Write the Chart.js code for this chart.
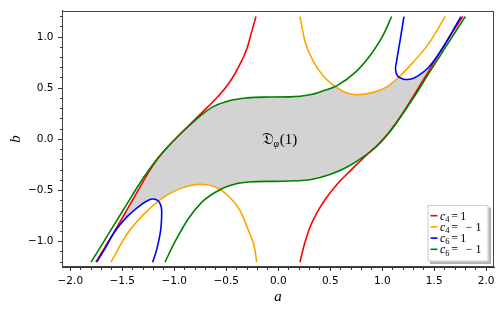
<!DOCTYPE html>
<html>
<head>
<meta charset="utf-8">
<script src="https://cdn.jsdelivr.net/npm/chart.js@4.4.0/dist/chart.umd.min.js"></script>
<style>html,body{margin:0;padding:0;background:#fff}</style>
</head>
<body>
<canvas id="myChart" width="503" height="314"></canvas>
<script>
// curves, as [a, b] pairs
const c4PlusLeft = [[-1.755,-1.2],[-1.665,-1.05],[-1.575,-0.90],[-1.49,-0.75],[-1.40,-0.59],[-1.31,-0.43],[-1.24,-0.31],[-1.16,-0.19],[-1.05,-0.06],[-0.96,0.035],[-0.87,0.125],[-0.80,0.195],[-0.69,0.305],[-0.56,0.44],[-0.46,0.57],[-0.37,0.73],[-0.30,0.89],[-0.256,1.05],[-0.214,1.2]];
const c4PlusRight = [[0.209,-1.2],[0.25,-1.03],[0.30,-0.87],[0.37,-0.72],[0.46,-0.575],[0.56,-0.445],[0.69,-0.31],[0.80,-0.2],[0.88,-0.125],[0.96,-0.05],[1.07,0.075],[1.2,0.26],[1.31,0.44],[1.44,0.655],[1.575,0.885],[1.675,1.045],[1.775,1.2]];
const c4MinusTop = [[0.209,1.2],[0.257,0.956],[0.337,0.763],[0.433,0.619],[0.56,0.507],[0.65,0.458],[0.754,0.436],[0.913,0.459],[1.04,0.51],[1.14,0.59],[1.29,0.745],[1.45,0.94],[1.606,1.2]];
const c4MinusBottom = [[-1.609,-1.2],[-1.458,-0.93],[-1.297,-0.735],[-1.14,-0.593],[-0.993,-0.503],[-0.865,-0.455],[-0.753,-0.439],[-0.609,-0.464],[-0.481,-0.551],[-0.368,-0.695],[-0.288,-0.887],[-0.224,-1.08],[-0.208,-1.2]];
const c6PlusTop = [[1.209,1.2],[1.17,0.956],[1.138,0.763],[1.128,0.683],[1.148,0.619],[1.20,0.59],[1.25,0.585],[1.314,0.603],[1.442,0.70],[1.571,0.875],[1.667,1.04],[1.757,1.2]];
const c6PlusBottom = [[-1.746,-1.2],[-1.66,-1.055],[-1.575,-0.905],[-1.458,-0.76],[-1.33,-0.647],[-1.25,-0.595],[-1.202,-0.583],[-1.155,-0.60],[-1.13,-0.645],[-1.121,-0.70],[-1.131,-0.887],[-1.17,-1.08],[-1.208,-1.2]];
const c6MinusUpper = [[-1.80,-1.2],[-1.70,-1.035],[-1.60,-0.87],[-1.50,-0.705],[-1.40,-0.54],[-1.30,-0.38],[-1.22,-0.265],[-1.14,-0.16],[-0.96,0.035],[-0.85,0.14],[-0.753,0.228],[-0.625,0.32],[-0.464,0.38],[-0.304,0.405],[-0.144,0.413],[0.11,0.415],[0.305,0.436],[0.433,0.475],[0.561,0.523],[0.754,0.667],[0.913,0.86],[1.01,1.02],[1.09,1.2]];
const c6MinusLower = [[-1.09,-1.2],[-0.993,-1.0],[-0.865,-0.775],[-0.737,-0.615],[-0.609,-0.519],[-0.481,-0.455],[-0.288,-0.416],[-0.03,-0.41],[0.16,-0.405],[0.305,-0.395],[0.497,-0.343],[0.658,-0.272],[0.80,-0.183],[0.946,-0.07],[1.074,0.074],[1.283,0.379],[1.442,0.635],[1.603,0.891],[1.735,1.1],[1.80,1.2]];

// outline of the shaded region D_phi(1)
const regionOutline = [[-1.575,-0.90],[-1.49,-0.75],[-1.40,-0.59],[-1.31,-0.43],[-1.24,-0.31],[-1.16,-0.19],[-1.05,-0.06],[-0.96,0.035],[-0.85,0.14],[-0.753,0.228],[-0.625,0.32],[-0.464,0.38],[-0.304,0.405],[-0.144,0.413],[0.11,0.415],[0.305,0.436],[0.433,0.475],[0.55,0.518],[0.65,0.458],[0.754,0.436],[0.913,0.459],[1.04,0.51],[1.165,0.61],[1.20,0.59],[1.25,0.585],[1.314,0.603],[1.442,0.70],[1.565,0.87],[1.44,0.655],[1.31,0.44],[1.2,0.26],[1.07,0.075],[0.96,-0.05],[0.88,-0.125],[0.80,-0.183],[0.658,-0.272],[0.497,-0.343],[0.305,-0.395],[0.16,-0.405],[-0.03,-0.41],[-0.288,-0.416],[-0.481,-0.455],[-0.562,-0.496],[-0.609,-0.464],[-0.753,-0.439],[-0.865,-0.455],[-0.993,-0.503],[-1.16,-0.60],[-1.202,-0.583],[-1.25,-0.595],[-1.33,-0.647],[-1.458,-0.76]];

const xMajor = [-2.0, -1.5, -1.0, -0.5, 0.0, 0.5, 1.0, 1.5, 2.0];
const yMajor = [-1.0, -0.5, 0.0, 0.5, 1.0];
const legendNames = ['c', 'c', 'c', 'c'];
const legendSubs = ['4', '4', '6', '6'];
const legendValues = ['1', '\u22121', '1', '\u22121'];
const legendColors = ['#ff0000', '#ffa500', '#0000ff', '#008000'];
const regionLabelAt = [-0.16, -0.045];

const toXY = pts => pts.map(p => ({x: p[0], y: p[1]}));
const isMajor = (list, v) => list.some(m => Math.abs(m - v) < 1e-6);
const fmt = v => Math.abs(v) < 1e-9 ? '0.0' : v.toFixed(1).replace('-', '\u2212');

// smooth: curves that are functions of a use monotone cubic, the others bezier
const curve = (pts, color, order, smooth) => ({
    data: toXY(pts),
    borderColor: color,
    borderWidth: 1.6,
    pointRadius: 0,
    showLine: true,
    cubicInterpolationMode: smooth ? 'monotone' : 'default',
    tension: 0.35,
    fill: false,
    order: order
});

const axis = (min, max, majors, position, title, titlePad) => ({
    type: 'linear',
    position: position,
    min: min,
    max: max,
    border: {display: true, color: '#333', width: 1},
    grid: {
        drawOnChartArea: false,
        drawTicks: true,
        tickLength: 4,
        tickColor: '#333',
        tickWidth: 1,
        tickBorderDash: ctx => isMajor(majors, ctx.tick.value) ? [] : [2, 2],
        tickBorderDashOffset: ctx => (position === 'left' && !isMajor(majors, ctx.tick.value)) ? 2 : 0
    },
    ticks: {
        stepSize: 0.1,
        maxTicksLimit: 100,
        includeBounds: false,
        autoSkip: false,
        maxRotation: 0,
        padding: position === 'left' ? 4.5 : 3.5,
        color: '#000',
        font: {family: 'DejaVu Sans', size: 10.5},
        callback: v => isMajor(majors, v) ? fmt(v) : ''
    },
    title: {
        display: true,
        text: title,
        color: '#000',
        font: {family: 'Liberation Serif', style: 'italic', size: 15},
        padding: titlePad
    },
    afterFit: s => { if (position === 'left') s.width = 62; else s.height = 47; }
});

const framePlugin = {
    id: 'frame',
    afterDraw(chart) {
        const {ctx, chartArea: ca, scales: {x, y}} = chart;
        ctx.save();
        ctx.strokeStyle = '#444';
        ctx.lineWidth = 1;
        ctx.strokeRect(Math.round(ca.left) + 0.5, Math.round(ca.top) + 0.5, Math.round(ca.right - ca.left) - 1, Math.round(ca.bottom - ca.top) - 1);

        // region label
        let tx = x.getPixelForValue(regionLabelAt[0]);
        const base = y.getPixelForValue(regionLabelAt[1]);
        ctx.fillStyle = '#000';
        ctx.textBaseline = 'alphabetic';
        ctx.textAlign = 'left';
        ctx.font = '16px "DejaVu Serif", "DejaVu Sans", serif';
        ctx.fillText('\u{1D507}', tx, base);
        tx += ctx.measureText('\u{1D507}').width;
        ctx.font = 'italic 10px "Liberation Serif", serif';
        ctx.fillText('\u03C6', tx, base + 3);
        tx += ctx.measureText('\u03C6').width + 0.5;
        ctx.font = '15px "Liberation Serif", serif';
        ctx.fillText('(1)', tx, base);

        // legend
        const w = 61, h = 56.5;
        const bx = ca.right - 5.5 - w, by = ca.bottom - 5.5 - h;
        ctx.fillStyle = '#b3b3b3';
        ctx.fillRect(bx + 2.5, by + 2.5, w, h);
        ctx.fillStyle = '#fff';
        ctx.fillRect(bx, by, w, h);
        ctx.strokeStyle = '#cccccc';
        ctx.strokeRect(bx + 0.5, by + 0.5, w - 1, h - 1);
        legendNames.forEach((name, i) => {
            const yy = by + 10.7 + i * 11.2;
            ctx.strokeStyle = legendColors[i];
            ctx.lineWidth = 1.6;
            ctx.beginPath();
            ctx.moveTo(bx + 3, yy);
            ctx.lineTo(bx + 10, yy);
            ctx.stroke();
            const x0 = bx + 12.5, b0 = yy + 3.8;
            ctx.fillStyle = '#000';
            ctx.font = 'italic 12px "Liberation Serif", serif';
            ctx.fillText(name, x0, b0);
            ctx.font = '8.5px "Liberation Serif", serif';
            ctx.fillText(legendSubs[i], x0 + 5.2, b0 + 2.5);
            ctx.font = '12px "Liberation Serif", serif';
            ctx.fillText('=', x0 + 11.3, b0);
            const val = legendValues[i];
            if (val[0] === '\u2212') {
                ctx.fillText('\u2212', x0 + 25.5, b0);
                ctx.fillText(val.slice(1), x0 + 35.5, b0);
            } else {
                ctx.fillText(val, x0 + 20.3, b0);
            }
        });
        ctx.restore();
    }
};

const ctx = document.getElementById('myChart').getContext('2d');
new Chart(ctx, {
    type: 'scatter',
    data: {
        datasets: [
            curve(c4PlusLeft, '#ff0000', 4, true),
            curve(c4PlusRight, '#ff0000', 4, true),
            curve(c4MinusTop, '#ffa500', 3, true),
            curve(c4MinusBottom, '#ffa500', 3, true),
            curve(c6PlusTop, '#0000ff', 2, false),
            curve(c6PlusBottom, '#0000ff', 2, false),
            curve(c6MinusUpper, '#008000', 1, true),
            curve(c6MinusLower, '#008000', 1, true),
            {
                data: toXY(regionOutline),
                showLine: true,
                borderWidth: 0,
                borderColor: 'rgba(0,0,0,0)',
                backgroundColor: '#d3d3d3',
                pointRadius: 0,
                tension: 0.3,
                fill: 'shape',
                order: 10
            }
        ]
    },
    options: {
        responsive: false,
        animation: false,
        layout: {padding: {left: 0, right: 9, top: 7, bottom: 0}},
        plugins: {legend: {display: false}, tooltip: {enabled: false}},
        scales: {
            x: axis(-2.08, 2.075, xMajor, 'bottom', 'a', {top: 0, bottom: 7.5}),
            y: axis(-1.247, 1.256, yMajor, 'left', 'b', {top: 6.6, bottom: 0})
        }
    },
    plugins: [framePlugin]
});
</script>
</body>
</html>
